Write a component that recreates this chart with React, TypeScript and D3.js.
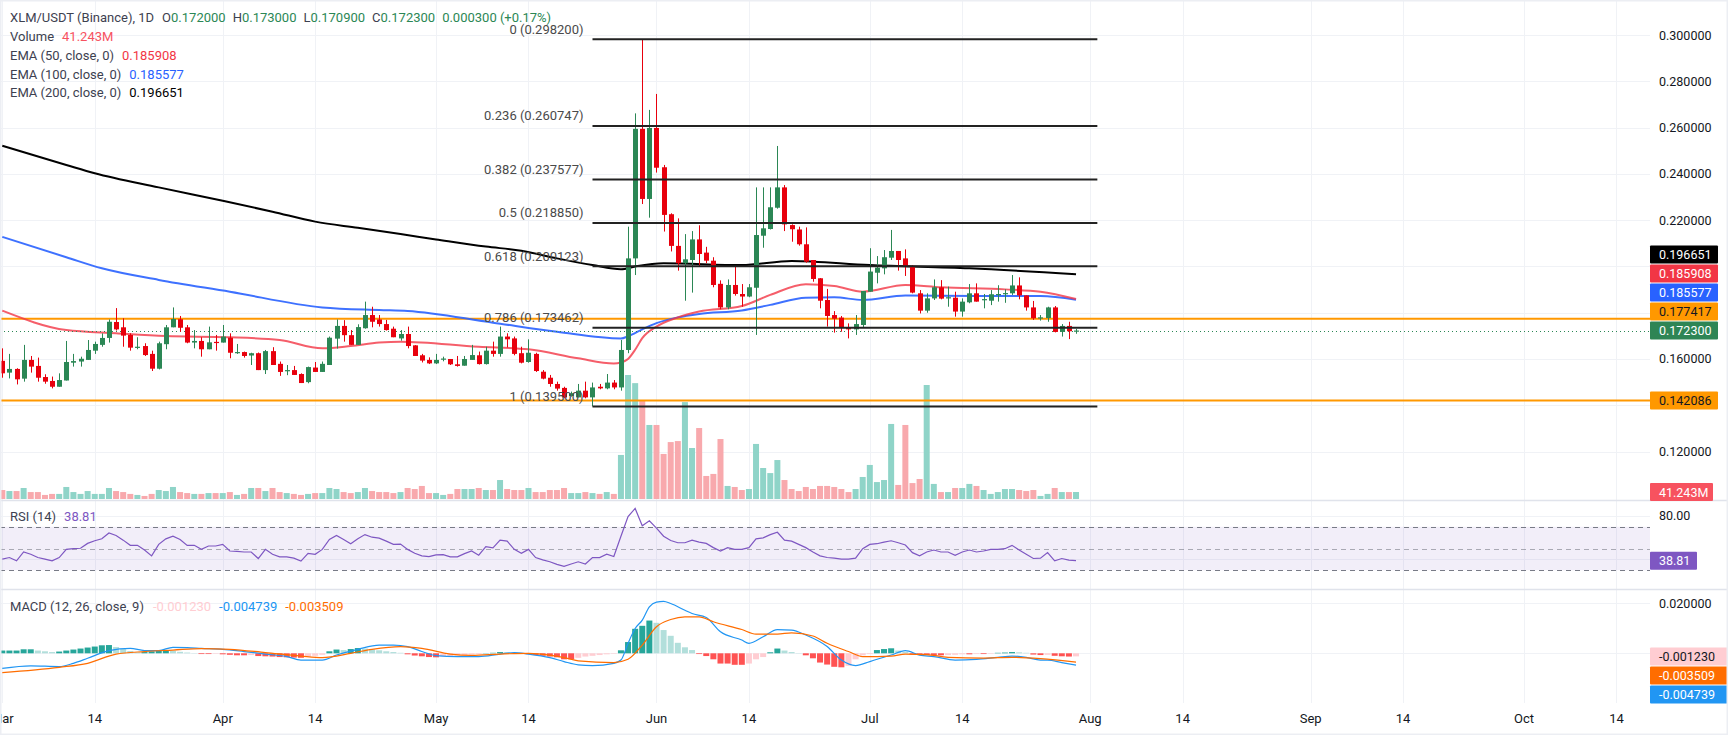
import React, { useEffect, useRef } from 'react';
import * as d3 from 'd3';

// daily candles from the first day, [open, high, low, close]
const firstDay = '2025-03-01';
const candles: [number, number, number, number][] = [
  [0.1592, 0.1646, 0.1519, 0.1538], [0.1541, 0.1622, 0.1516, 0.1557], [0.1557, 0.1560, 0.1490, 0.1512], [0.1515, 0.1661, 0.1502, 0.1596],
  [0.1596, 0.1613, 0.1541, 0.1567], [0.1570, 0.1606, 0.1502, 0.1519], [0.1522, 0.1534, 0.1493, 0.1502], [0.1505, 0.1524, 0.1473, 0.1480],
  [0.1480, 0.1538, 0.1480, 0.1509], [0.1507, 0.1678, 0.1507, 0.1587], [0.1584, 0.1622, 0.1567, 0.1591], [0.1589, 0.1610, 0.1567, 0.1601],
  [0.1596, 0.1682, 0.1596, 0.1639], [0.1636, 0.1675, 0.1622, 0.1665], [0.1661, 0.1711, 0.1653, 0.1691], [0.1691, 0.1771, 0.1671, 0.1761],
  [0.1760, 0.1820, 0.1723, 0.1728], [0.1737, 0.1776, 0.1653, 0.1701], [0.1704, 0.1711, 0.1636, 0.1649], [0.1649, 0.1694, 0.1642, 0.1653],
  [0.1656, 0.1668, 0.1613, 0.1617], [0.1622, 0.1636, 0.1548, 0.1558], [0.1558, 0.1675, 0.1555, 0.1668], [0.1664, 0.1747, 0.1642, 0.1737],
  [0.1737, 0.1823, 0.1737, 0.1773], [0.1772, 0.1786, 0.1717, 0.1735], [0.1737, 0.1747, 0.1668, 0.1671], [0.1671, 0.1725, 0.1646, 0.1678],
  [0.1678, 0.1694, 0.1610, 0.1642], [0.1642, 0.1740, 0.1642, 0.1672], [0.1674, 0.1704, 0.1636, 0.1671], [0.1671, 0.1747, 0.1671, 0.1697],
  [0.1692, 0.1711, 0.1603, 0.1627], [0.1627, 0.1665, 0.1622, 0.1630], [0.1630, 0.1632, 0.1606, 0.1613], [0.1615, 0.1627, 0.1574, 0.1625],
  [0.1625, 0.1628, 0.1552, 0.1552], [0.1552, 0.1639, 0.1535, 0.1634], [0.1634, 0.1651, 0.1574, 0.1574], [0.1579, 0.1589, 0.1527, 0.1544],
  [0.1548, 0.1574, 0.1530, 0.1552], [0.1552, 0.1570, 0.1531, 0.1531], [0.1535, 0.1538, 0.1496, 0.1496], [0.1500, 0.1567, 0.1495, 0.1565],
  [0.1563, 0.1587, 0.1544, 0.1544], [0.1544, 0.1589, 0.1544, 0.1579], [0.1574, 0.1697, 0.1574, 0.1692], [0.1688, 0.1771, 0.1645, 0.1743],
  [0.1743, 0.1768, 0.1675, 0.1703], [0.1703, 0.1725, 0.1661, 0.1661], [0.1661, 0.1750, 0.1661, 0.1738], [0.1733, 0.1848, 0.1731, 0.1790],
  [0.1790, 0.1826, 0.1737, 0.1761], [0.1771, 0.1790, 0.1740, 0.1751], [0.1751, 0.1769, 0.1723, 0.1725], [0.1731, 0.1740, 0.1694, 0.1694],
  [0.1689, 0.1725, 0.1679, 0.1708], [0.1708, 0.1740, 0.1646, 0.1656], [0.1659, 0.1660, 0.1613, 0.1613], [0.1616, 0.1622, 0.1585, 0.1593],
  [0.1596, 0.1607, 0.1578, 0.1581], [0.1581, 0.1622, 0.1578, 0.1596], [0.1599, 0.1610, 0.1590, 0.1602], [0.1600, 0.1600, 0.1574, 0.1577],
  [0.1577, 0.1613, 0.1567, 0.1570], [0.1571, 0.1613, 0.1571, 0.1600], [0.1596, 0.1661, 0.1596, 0.1617], [0.1616, 0.1632, 0.1576, 0.1578],
  [0.1578, 0.1653, 0.1576, 0.1636], [0.1636, 0.1675, 0.1610, 0.1622], [0.1622, 0.1740, 0.1610, 0.1697], [0.1697, 0.1711, 0.1650, 0.1685],
  [0.1689, 0.1697, 0.1616, 0.1622], [0.1625, 0.1653, 0.1581, 0.1584], [0.1587, 0.1685, 0.1584, 0.1627], [0.1622, 0.1627, 0.1544, 0.1548],
  [0.1545, 0.1552, 0.1512, 0.1515], [0.1519, 0.1531, 0.1480, 0.1492], [0.1492, 0.1502, 0.1463, 0.1472], [0.1475, 0.1480, 0.1430, 0.1434],
  [0.1440, 0.1459, 0.1437, 0.1452], [0.1434, 0.1492, 0.1434, 0.1463], [0.1463, 0.1502, 0.1430, 0.1434], [0.1434, 0.1498, 0.1395, 0.1477],
  [0.1480, 0.1492, 0.1469, 0.1473], [0.1473, 0.1535, 0.1469, 0.1498], [0.1498, 0.1509, 0.1469, 0.1477], [0.1477, 0.1682, 0.1463, 0.1639],
  [0.1639, 0.2172, 0.1625, 0.2035], [0.2035, 0.2662, 0.1963, 0.2595], [0.2595, 0.2982, 0.2270, 0.2292], [0.2292, 0.2677, 0.2211, 0.2599],
  [0.2599, 0.2746, 0.2406, 0.2427], [0.2429, 0.2439, 0.2151, 0.2223], [0.2226, 0.2230, 0.2065, 0.2089], [0.2089, 0.2208, 0.1982, 0.2014],
  [0.2014, 0.2140, 0.1852, 0.2031], [0.2028, 0.2153, 0.1887, 0.2117], [0.2117, 0.2178, 0.2002, 0.2054], [0.2060, 0.2085, 0.2014, 0.2025],
  [0.2025, 0.2040, 0.1910, 0.1920], [0.1925, 0.1940, 0.1815, 0.1823], [0.1823, 0.1944, 0.1815, 0.1920], [0.1920, 0.1999, 0.1874, 0.1881],
  [0.1881, 0.1924, 0.1826, 0.1870], [0.1870, 0.1924, 0.1867, 0.1910], [0.1908, 0.2342, 0.1704, 0.2136], [0.2133, 0.2342, 0.2081, 0.2165],
  [0.2162, 0.2342, 0.2160, 0.2256], [0.2254, 0.2521, 0.2250, 0.2342], [0.2342, 0.2352, 0.2153, 0.2182], [0.2179, 0.2182, 0.2107, 0.2161],
  [0.2160, 0.2172, 0.2090, 0.2096], [0.2096, 0.2169, 0.2016, 0.2021], [0.2028, 0.2028, 0.1934, 0.1946], [0.1949, 0.1950, 0.1819, 0.1852],
  [0.1855, 0.1903, 0.1740, 0.1786], [0.1790, 0.1807, 0.1714, 0.1774], [0.1779, 0.1786, 0.1718, 0.1736], [0.1738, 0.1754, 0.1689, 0.1728],
  [0.1728, 0.1790, 0.1704, 0.1751], [0.1747, 0.1894, 0.1737, 0.1894], [0.1891, 0.2079, 0.1891, 0.1978], [0.1973, 0.2045, 0.1927, 0.1995],
  [0.1992, 0.2071, 0.1966, 0.2040], [0.2038, 0.2158, 0.2028, 0.2067], [0.2067, 0.2067, 0.1982, 0.2028], [0.2035, 0.2074, 0.1959, 0.2002],
  [0.2002, 0.2006, 0.1884, 0.1887], [0.1884, 0.1898, 0.1797, 0.1809], [0.1809, 0.1884, 0.1800, 0.1862], [0.1862, 0.1944, 0.1855, 0.1910],
  [0.1910, 0.1941, 0.1858, 0.1861], [0.1862, 0.1913, 0.1826, 0.1867], [0.1865, 0.1891, 0.1783, 0.1805], [0.1805, 0.1862, 0.1783, 0.1848],
  [0.1845, 0.1924, 0.1841, 0.1884], [0.1884, 0.1927, 0.1848, 0.1848], [0.1855, 0.1881, 0.1819, 0.1859], [0.1852, 0.1898, 0.1833, 0.1880],
  [0.1877, 0.1919, 0.1848, 0.1881], [0.1881, 0.1901, 0.1843, 0.1885], [0.1884, 0.1963, 0.1877, 0.1918], [0.1918, 0.1953, 0.1858, 0.1875],
  [0.1875, 0.1875, 0.1809, 0.1823], [0.1823, 0.1851, 0.1769, 0.1776], [0.1777, 0.1790, 0.1766, 0.1780], [0.1777, 0.1826, 0.1761, 0.1823],
  [0.1823, 0.1829, 0.1715, 0.1717], [0.1717, 0.1751, 0.1697, 0.1743], [0.1743, 0.1761, 0.1686, 0.1720], [0.1720, 0.1730, 0.1709, 0.1723],
];

// volume in millions, one per candle
const volumes = [
  53, 47, 47, 65, 41, 41, 24, 30, 30, 71, 41, 30, 47, 30, 30, 65, 47, 41, 30, 24,
  18, 30, 53, 47, 71, 41, 35, 30, 30, 35, 35, 35, 41, 24, 30, 65, 65, 47, 65, 41,
  35, 30, 24, 30, 35, 35, 65, 59, 41, 35, 41, 65, 47, 41, 41, 35, 41, 65, 59, 77,
  35, 35, 24, 30, 59, 59, 59, 65, 53, 53, 112, 59, 53, 53, 65, 41, 41, 53, 53, 65,
  35, 35, 41, 35, 30, 41, 30, 260, 732, 684, 584, 437, 437, 266, 336, 342, 572, 301, 419, 136,
  148, 354, 77, 71, 53, 59, 325, 183, 153, 230, 112, 59, 47, 71, 59, 77, 77, 71, 59, 41,
  59, 130, 201, 100, 112, 443, 83, 437, 94, 118, 673, 89, 41, 41, 65, 65, 89, 77, 53, 30,
  41, 59, 59, 53, 47, 53, 18, 30, 65, 41, 41, 41.243,
];

// RSI (14), one per candle
const rsi = [
  40.2, 41.7, 38.7, 46.8, 44.7, 41.7, 40.2, 38.7, 41.7, 49.2, 49.8, 50.2, 54.7, 57.1, 58.9, 64.3, 61.9, 57.7, 52.9, 52.9,
  48.6, 43.2, 53.8, 58.9, 61.3, 58.3, 52.9, 52.9, 49.2, 52.3, 52.3, 53.8, 47.7, 47.4, 46.8, 46.8, 40.8, 49.2, 44.7, 42.3,
  42.3, 41.1, 38.4, 45.6, 44.7, 49.2, 58.3, 61.9, 58.3, 54.4, 58.9, 62.8, 60.4, 59.5, 56.8, 53.8, 54.1, 49.2, 45.6, 43.2,
  42.6, 44.1, 44.4, 42.3, 42.3, 45.3, 47.7, 43.8, 51.7, 50.5, 57.7, 56.8, 49.2, 45.6, 49.2, 41.7, 39.6, 37.8, 35.4, 33.6,
  35.7, 37.8, 35.7, 41.7, 41.7, 44.7, 42.6, 61.3, 79.3, 86.8, 70.9, 75.4, 68.8, 61.3, 57.4, 55.3, 55.3, 57.7, 55.9, 54.7,
  50.8, 47.7, 50.8, 49.2, 49.2, 50.8, 58.9, 59.8, 62.8, 64.9, 57.7, 56.8, 53.8, 50.8, 46.8, 43.2, 41.7, 41.1, 40.2, 40.2,
  41.1, 49.8, 53.8, 54.4, 55.9, 57.1, 55.3, 53.2, 46.2, 43.2, 46.8, 48.6, 46.8, 46.8, 43.8, 46.8, 48.6, 46.8, 47.7, 49.2,
  49.2, 49.8, 52.9, 48.6, 44.7, 40.8, 41.1, 46.2, 38.7, 40.8, 39.3, 38.81,
];

// MACD histogram, one per candle
const macdHist = [
  0.0011, 0.0011, 0.0011, 0.0016, 0.0016, 0.0011, 0.0008, 0.0005, 0.0007, 0.0011,
  0.0015, 0.0019, 0.0023, 0.0027, 0.0032, 0.0033, 0.0025, 0.0017, 0.0009, 0.0004,
  0.0005, 0.0008, 0.0011, 0.0013, 0.0010, 0.0006, 0.0003, 0.0001, -0.0003, -0.0003,
  -0.0002, -0.0004, -0.0006, -0.0008, -0.0008, -0.0007, -0.0011, -0.0012, -0.0013, -0.0015,
  -0.0016, -0.0017, -0.0018, -0.0013, -0.0010, -0.0006, 0.0008, 0.0015, 0.0013, 0.0017,
  0.0021, 0.0019, 0.0015, 0.0012, 0.0008, 0.0005, 0.0002, -0.0004, -0.0009, -0.0012,
  -0.0015, -0.0016, -0.0013, -0.0011, -0.0009, -0.0008, -0.0005, -0.0003, 0.0001, 0.0002,
  0.0005, 0.0004, 0.0002, -0.0002, -0.0004, -0.0007, -0.0010, -0.0013, -0.0016, -0.0024,
  -0.0024, -0.0018, -0.0013, -0.0010, -0.0007, -0.0004, -0.0002, 0.0012, 0.0045, 0.0098,
  0.0110, 0.0131, 0.0122, 0.0093, 0.0070, 0.0042, 0.0024, 0.0013, -0.0003, -0.0011,
  -0.0024, -0.0041, -0.0041, -0.0046, -0.0046, -0.0041, -0.0024, -0.0015, 0.0004, 0.0019,
  0.0011, 0.0005, 0.0001, -0.0008, -0.0020, -0.0037, -0.0045, -0.0054, -0.0056, -0.0050,
  -0.0024, -0.0008, -0.0003, 0.0013, 0.0017, 0.0020, 0.0011, 0.0005, -0.0005, -0.0006,
  -0.0007, -0.0008, -0.0008, -0.0007, -0.0006, -0.0004, -0.0004, -0.0003, -0.0003, -0.0002,
  0.0002, 0.0003, 0.0005, 0.0004, 0.0002, -0.0005, -0.0007, -0.0006, -0.0010, -0.0012,
  -0.0013, -0.00123,
];

// MACD and signal lines, read at sampled days (day number from firstDay)
const macdDays = [0, 4, 8, 10, 12, 15, 18, 20, 22, 24, 26, 28, 31, 34, 37, 40, 42, 45, 47, 50, 53, 55, 57, 59, 61, 64, 67, 70, 72, 74,
  77, 79, 81, 83, 86, 87, 88, 89, 90, 91, 92, 93, 94, 96, 97, 99, 101, 104, 105, 107, 109, 111, 113, 116, 118, 120, 122, 125, 127, 129,
  131, 134, 137, 140, 142, 144, 146, 147, 149, 151];
const macdLine = [-0.0060, -0.0050, -0.0053, -0.0040, -0.0020, 0.0011, 0.0020, 0.0011, 0.0011, 0.0024, 0.0023, 0.0020, 0.0016, 0.0007, -0.0003,
  -0.0013, -0.0027, -0.0027, -0.0007, 0.0016, 0.0033, 0.0033, 0.0027, 0.0007, -0.0009, -0.0013, -0.0013, -0.0003, 0.0003, -0.0003,
  -0.0017, -0.0033, -0.0046, -0.0049, -0.0040, -0.0027, 0.0040, 0.0099, 0.0133, 0.0186, 0.0205, 0.0208, 0.0199, 0.0172, 0.0159,
  0.0143, 0.0086, 0.0053, 0.0040, 0.0066, 0.0095, 0.0093, 0.0073, 0.0027, -0.0027, -0.0049, -0.0033, -0.0007, 0.0011, -0.0007,
  -0.0013, -0.0027, -0.0024, -0.0016, -0.0011, -0.0016, -0.0027, -0.0027, -0.0037, -0.004739];
const signalDays = [0, 8, 12, 16, 20, 24, 28, 32, 37, 42, 45, 49, 52, 56, 59, 63, 66, 70, 74, 77, 79, 81, 86, 88, 90, 92, 94, 96, 98, 100,
  104, 106, 109, 111, 114, 116, 119, 121, 125, 127, 130, 133, 138, 142, 146, 151];
const signalLine = [-0.0077, -0.0056, -0.0040, -0.0003, 0.0007, 0.0013, 0.0019, 0.0016, 0.0003, -0.0011, -0.0017, 0.0000, 0.0016, 0.0027,
  0.0020, -0.0003, -0.0008, -0.0003, 0.0000, -0.0007, -0.0017, -0.0030, -0.0037, -0.0024, 0.0033, 0.0106, 0.0135, 0.0146, 0.0146,
  0.0126, 0.0095, 0.0077, 0.0077, 0.0082, 0.0069, 0.0040, 0.0007, -0.0013, -0.0011, -0.0003, -0.0005, -0.0016, -0.0019, -0.0016,
  -0.0021, -0.003509];

// EMAs read at sampled days
const ema50Days = [0, 9, 16, 23, 32, 39, 45, 49, 53, 56, 67, 74, 81, 86, 87, 88, 89, 90, 92, 95, 98, 104, 108, 113, 117, 121, 127, 132, 141, 146, 151];
const ema50 = [0.1809, 0.1725, 0.1711, 0.1699, 0.1694, 0.1682, 0.1646, 0.1656, 0.1671, 0.1675, 0.1653, 0.1642, 0.1603, 0.1581, 0.1585,
  0.1600, 0.1640, 0.1690, 0.1740, 0.1780, 0.1805, 0.1829, 0.1877, 0.1923, 0.1916, 0.1891, 0.1920, 0.1910, 0.1901, 0.1891, 0.185908];
const ema100Days = [0, 9, 14, 22, 32, 45, 53, 57, 69, 78, 87, 88, 90, 92, 95, 98, 104, 108, 113, 117, 121, 127, 137, 146, 151];
const ema100 = [0.2128, 0.2040, 0.1992, 0.1942, 0.1891, 0.1823, 0.1812, 0.1808, 0.1757, 0.1718, 0.1689, 0.1698, 0.1728, 0.1755, 0.1780,
  0.1795, 0.1810, 0.1834, 0.1865, 0.1867, 0.1855, 0.1874, 0.1872, 0.1872, 0.185577];
const ema200Days = [0, 9, 13, 22, 31, 38, 44, 50, 56, 61, 68, 73, 78, 83, 87, 89, 93, 104, 111, 122, 136, 151];
const ema200 = [0.2522, 0.2439, 0.2403, 0.2342, 0.2284, 0.2237, 0.2194, 0.2167, 0.2140, 0.2117, 0.2086, 0.2068, 0.2035, 0.2006, 0.1988,
  0.2000, 0.2014, 0.2006, 0.2024, 0.2006, 0.1992, 0.196651];

// fibonacci retracement
const fibLevels = ['0', '0.236', '0.382', '0.5', '0.618', '0.786', '1'];
const fibPrices = [0.2982, 0.260747, 0.237577, 0.21885, 0.200123, 0.173462, 0.1395];
const fibFrom = '2025-05-23';
const fibTo = '2025-08-02';

const supportLines = [0.177417, 0.142086];
const lastClose = 0.1723;

const priceTicks = [0.12, 0.14, 0.16, 0.18, 0.2, 0.22, 0.24, 0.26, 0.28, 0.3];
const rsiTicks = [80, 40];
const macdTicks = [0.02, 0];
const timeTickDates = ['2025-03-01', '2025-03-14', '2025-04-01', '2025-04-14', '2025-05-01', '2025-05-14', '2025-06-01', '2025-06-14',
  '2025-07-01', '2025-07-14', '2025-08-01', '2025-08-14', '2025-09-01', '2025-09-14', '2025-10-01', '2025-10-14'];
const timeTickLabels = ['Mar', '14', 'Apr', '14', 'May', '14', 'Jun', '14', 'Jul', '14', 'Aug', '14', 'Sep', '14', 'Oct', '14'];

const W = 1728;
const H = 735;
const PLOT_R = 1650;
const MAIN_B = 500;
const RSI_B = 589;
const MACD_B = 703;
const FONT = 'Roboto, sans-serif';
const UP = '#2b8755';
const DOWN = '#e8000d';

const App: React.FC = () => {
  const svgRef = useRef<SVGSVGElement>(null);

  useEffect(() => {
    if (!svgRef.current) return;
    const svg = d3.select(svgRef.current);
    svg.selectAll('*').remove();

    const start = new Date(firstDay + 'T00:00:00Z');
    const dayDate = (i: number) => d3.utcDay.offset(start, i);
    const x = d3.scaleUtc()
      .domain([new Date('2025-03-01T00:00:00Z'), new Date('2025-10-01T00:00:00Z')])
      .range([2.3, 1524]);
    const xd = (i: number) => x(dayDate(i));
    const y = d3.scaleLinear().domain([0.12, 0.3]).range([451.5, 35.2]);
    const yVol = d3.scaleLinear().domain([0, 732]).range([499, 375]);
    const yRsi = d3.scaleLinear().domain([30, 70]).range([570.25, 526.75]);
    const yMacd = d3.scaleLinear().domain([0, 0.02]).range([653.3, 603.3]);

    svg.append('rect').attr('width', W).attr('height', H).attr('fill', '#fff');

    const defs = svg.append('defs');
    const clip = (id: string, y0: number, y1: number) =>
      defs.append('clipPath').attr('id', id).append('rect')
        .attr('x', 0).attr('y', y0).attr('width', PLOT_R).attr('height', y1 - y0);
    clip('clip-main', 0, MAIN_B);
    clip('clip-rsi', MAIN_B, RSI_B);
    clip('clip-macd', RSI_B, MACD_B);

    // grid
    const grid = svg.append('g').attr('stroke', '#f0f2f6').attr('stroke-width', 1);
    timeTickDates.forEach(d => {
      const gx = Math.round(x(new Date(d + 'T00:00:00Z'))) + 0.5;
      grid.append('line').attr('x1', gx).attr('x2', gx).attr('y1', 0).attr('y2', MACD_B);
    });
    priceTicks.forEach(p => {
      const gy = Math.round(y(p)) + 0.5;
      grid.append('line').attr('x1', 0).attr('x2', PLOT_R).attr('y1', gy).attr('y2', gy);
    });
    rsiTicks.forEach(r => {
      const gy = Math.round(yRsi(r)) + 0.5;
      grid.append('line').attr('x1', 0).attr('x2', PLOT_R).attr('y1', gy).attr('y2', gy);
    });
    macdTicks.forEach(m => {
      const gy = Math.round(yMacd(m)) + 0.5;
      grid.append('line').attr('x1', 0).attr('x2', PLOT_R).attr('y1', gy).attr('y2', gy);
    });

    // pane separators
    [MAIN_B, RSI_B].forEach(py => {
      svg.append('line').attr('x1', 0).attr('x2', W).attr('y1', py + 0.5).attr('y2', py + 0.5)
        .attr('stroke', '#e0e3eb').attr('stroke-width', 1.5);
    });

    // ---------- main pane ----------
    const main = svg.append('g').attr('clip-path', 'url(#clip-main)');

    main.append('g').selectAll('rect')
      .data(volumes)
      .join('rect')
      .attr('x', (_, i) => xd(i) - 3)
      .attr('width', 6)
      .attr('y', d => yVol(d))
      .attr('height', d => 499 - yVol(d))
      .attr('fill', (_, i) => candles[i][3] >= candles[i][0] ? '#8fd4c8' : '#f8a9ad');

    supportLines.forEach(p => {
      main.append('line').attr('x1', 0).attr('x2', PLOT_R).attr('y1', y(p)).attr('y2', y(p))
        .attr('stroke', '#ff9800').attr('stroke-width', 2);
    });

    const emaLine = (days: number[], vals: number[], color: string, op: number) => {
      const pts = days.map((d, i) => [xd(d), y(vals[i])] as [number, number]);
      main.append('path')
        .attr('d', d3.line().curve(d3.curveMonotoneX)(pts))
        .attr('fill', 'none').attr('stroke', color).attr('stroke-width', 2).attr('stroke-opacity', op);
    };
    emaLine(ema200Days, ema200, '#000000', 1);
    emaLine(ema100Days, ema100, '#2962ff', 0.9);
    emaLine(ema50Days, ema50, '#f23645', 0.8);

    main.append('line').attr('x1', 0).attr('x2', PLOT_R)
      .attr('y1', Math.round(y(lastClose)) + 0.5).attr('y2', Math.round(y(lastClose)) + 0.5)
      .attr('stroke', UP).attr('stroke-width', 1).attr('stroke-dasharray', '1 3');

    const cg = main.append('g').selectAll('g').data(candles).join('g');
    cg.append('line')
      .attr('x1', (_, i) => Math.round(xd(i)) + 0.5)
      .attr('x2', (_, i) => Math.round(xd(i)) + 0.5)
      .attr('y1', d => y(d[1]))
      .attr('y2', d => y(d[2]))
      .attr('stroke', d => d[3] >= d[0] ? UP : DOWN)
      .attr('stroke-width', 1);
    cg.append('rect')
      .attr('x', (_, i) => Math.round(xd(i)) - 2)
      .attr('width', 5)
      .attr('y', d => y(Math.max(d[0], d[3])))
      .attr('height', d => Math.max(1.2, Math.abs(y(d[0]) - y(d[3]))))
      .attr('fill', d => d[3] >= d[0] ? UP : DOWN);

    // fibonacci
    const fx0 = x(new Date(fibFrom + 'T00:00:00Z'));
    const fx1 = x(new Date(fibTo + 'T00:00:00Z'));
    fibPrices.forEach((p, i) => {
      main.append('line').attr('x1', fx0).attr('x2', fx1).attr('y1', y(p)).attr('y2', y(p))
        .attr('stroke', '#222').attr('stroke-width', 2);
      main.append('text')
        .attr('x', fx0 - 9).attr('y', y(p) - 5.5)
        .attr('text-anchor', 'end')
        .attr('font-family', FONT).attr('font-size', 13).attr('fill', '#4a4a4a')
        .text(`${fibLevels[i]} (${p.toFixed(6)})`);
    });

    // ---------- RSI pane ----------
    const rp = svg.append('g').attr('clip-path', 'url(#clip-rsi)');
    rp.append('rect').attr('x', 0).attr('width', PLOT_R)
      .attr('y', yRsi(70)).attr('height', yRsi(30) - yRsi(70))
      .attr('fill', 'rgba(126,87,194,0.1)');
    [70, 50, 30].forEach(v => {
      rp.append('line').attr('x1', 0).attr('x2', PLOT_R)
        .attr('y1', Math.round(yRsi(v)) + 0.5).attr('y2', Math.round(yRsi(v)) + 0.5)
        .attr('stroke', '#787b86').attr('stroke-opacity', v === 50 ? 0.6 : 1)
        .attr('stroke-dasharray', '5 4').attr('stroke-width', 1);
    });
    rp.append('path')
      .attr('d', d3.line<number>().x((_, i) => xd(i)).y(d => yRsi(d))(rsi))
      .attr('fill', 'none').attr('stroke', '#7e57c2').attr('stroke-width', 1.2);

    // ---------- MACD pane ----------
    const mp = svg.append('g').attr('clip-path', 'url(#clip-macd)');
    mp.append('g').selectAll('rect')
      .data(macdHist)
      .join('rect')
      .attr('x', (_, i) => xd(i) - 3)
      .attr('width', 6)
      .attr('y', d => Math.min(yMacd(d), yMacd(0)))
      .attr('height', d => Math.abs(yMacd(d) - yMacd(0)))
      .attr('fill', (d, i) => {
        const prev = i > 0 ? macdHist[i - 1] : d;
        if (d >= 0) return d >= prev ? '#26a69a' : '#b2dfdb';
        return d <= prev ? '#ff5252' : '#ffcdd2';
      });
    const macdPath = (days: number[], vals: number[], color: string) => {
      const pts = days.map((d, i) => [xd(d), yMacd(vals[i])] as [number, number]);
      mp.append('path')
        .attr('d', d3.line().curve(d3.curveMonotoneX)(pts))
        .attr('fill', 'none').attr('stroke', color).attr('stroke-width', 1.2);
    };
    macdPath(macdDays, macdLine, '#2196f3');
    macdPath(signalDays, signalLine, '#ff6d00');

    // ---------- axes ----------
    const axisText = (tx: number, ty: number, s: string, anchor = 'start') =>
      svg.append('text').attr('x', tx).attr('y', ty).attr('text-anchor', anchor)
        .attr('font-family', FONT).attr('font-size', 12.5).attr('fill', '#131722').text(s);

    type Tag = { y: number; text: string; bg: string; fg: string; w: number };
    const mainTags: Tag[] = [
      { y: y(ema200[ema200.length - 1]), text: '0.196651', bg: '#000000', fg: '#fff', w: 68 },
      { y: y(ema50[ema50.length - 1]), text: '0.185908', bg: '#f23645', fg: '#fff', w: 68 },
      { y: y(ema100[ema100.length - 1]), text: '0.185577', bg: '#2962ff', fg: '#fff', w: 68 },
      { y: y(supportLines[0]), text: '0.177417', bg: '#ff9800', fg: '#131722', w: 68 },
      { y: y(lastClose), text: '0.172300', bg: '#2e8555', fg: '#fff', w: 68 },
      { y: y(supportLines[1]), text: '0.142086', bg: '#ff9800', fg: '#131722', w: 68 },
    ];
    // push overlapping tags upwards, bottom first
    const byBottom = [...mainTags].sort((a, b) => b.y - a.y);
    for (let i = 1; i < byBottom.length; i++) {
      byBottom[i].y = Math.min(byBottom[i].y, byBottom[i - 1].y - 19);
    }
    const macdTags: Tag[] = [
      { y: yMacd(macdHist[macdHist.length - 1]), text: '-0.001230', bg: '#ffcdd2', fg: '#131722', w: 78 },
      { y: yMacd(signalLine[signalLine.length - 1]), text: '-0.003509', bg: '#ff6d00', fg: '#fff', w: 78 },
      { y: yMacd(macdLine[macdLine.length - 1]), text: '-0.004739', bg: '#2196f3', fg: '#fff', w: 78 },
    ];
    const byTop = [...macdTags].sort((a, b) => a.y - b.y);
    for (let i = 1; i < byTop.length; i++) {
      byTop[i].y = Math.max(byTop[i].y, byTop[i - 1].y + 19);
    }
    const volTag: Tag = { y: yVol(volumes[volumes.length - 1]), text: '41.243M', bg: '#f7525f', fg: '#fff', w: 63 };
    const rsiTag: Tag = { y: yRsi(rsi[rsi.length - 1]), text: '38.81', bg: '#7e57c2', fg: '#fff', w: 47 };
    const allTags = [...mainTags, ...macdTags, volTag, rsiTag];

    const hidden = (ty: number) => allTags.some(t => Math.abs(t.y - ty) < 13);
    priceTicks.forEach(p => { if (!hidden(y(p))) axisText(1659, y(p) + 4.5, p.toFixed(6)); });
    rsiTicks.forEach(r => { if (!hidden(yRsi(r))) axisText(1659, yRsi(r) + 4.5, r.toFixed(2)); });
    macdTicks.forEach(m => { if (!hidden(yMacd(m))) axisText(1659, yMacd(m) + 4.5, m.toFixed(6)); });

    allTags.forEach(t => {
      svg.append('rect').attr('x', PLOT_R).attr('y', t.y - 9).attr('width', t.w).attr('height', 18)
        .attr('rx', 1).attr('fill', t.bg);
      svg.append('text').attr('x', 1659).attr('y', t.y + 4.5)
        .attr('font-family', FONT).attr('font-size', 12.5).attr('fill', t.fg).text(t.text);
    });

    timeTickDates.forEach((d, i) => {
      axisText(x(new Date(d + 'T00:00:00Z')), 722.5, timeTickLabels[i], 'middle').attr('font-size', 13);
    });

    // ---------- legends ----------
    const legend = (lx: number, ly: number, parts: [string, string, number][]) => {
      const t = svg.append('text').attr('x', lx).attr('y', ly)
        .attr('font-family', FONT).attr('font-size', 13);
      parts.forEach(([s, c, dx]) => t.append('tspan').attr('dx', dx).attr('fill', c).text(s));
    };
    const gray = '#3d4150';
    legend(10, 21.5, [
      ['XLM/USDT (Binance), 1D', gray, 0],
      ['O', gray, 8], ['0.172000', UP, 0],
      ['H', gray, 7], ['0.173000', UP, 0],
      ['L', gray, 7], ['0.170900', UP, 0],
      ['C', gray, 7], ['0.172300', UP, 0],
      ['0.000300 (+0.17%)', UP, 7],
    ]);
    legend(10, 40.5, [['Volume', gray, 0], ['41.243M', '#f7525f', 8]]);
    legend(10, 59.5, [['EMA (50, close, 0)', gray, 0], ['0.185908', '#f23645', 8]]);
    legend(10, 78.5, [['EMA (100, close, 0)', gray, 0], ['0.185577', '#2962ff', 8]]);
    legend(10, 96.5, [['EMA (200, close, 0)', gray, 0], ['0.196651', '#000000', 8]]);
    legend(10, 521, [['RSI (14)', gray, 0], ['38.81', '#7e57c2', 8]]);
    legend(10, 611, [
      ['MACD (12, 26, close, 9)', gray, 0],
      ['-0.001230', '#ffcdd2', 9],
      ['-0.004739', '#2196f3', 8],
      ['-0.003509', '#ff6d00', 8],
    ]);

    // outer frame
    svg.append('rect').attr('x', 0.5).attr('y', 0.5).attr('width', W - 1).attr('height', H - 1)
      .attr('fill', 'none').attr('stroke', '#eceef3').attr('stroke-width', 2);
  }, []);

  return (
    <div style={{ position: 'absolute', left: 0, top: 0, width: W, height: H, background: '#fff' }}>
      <svg ref={svgRef} width={W} height={H} style={{ display: 'block' }} />
    </div>
  );
};

export default App;
